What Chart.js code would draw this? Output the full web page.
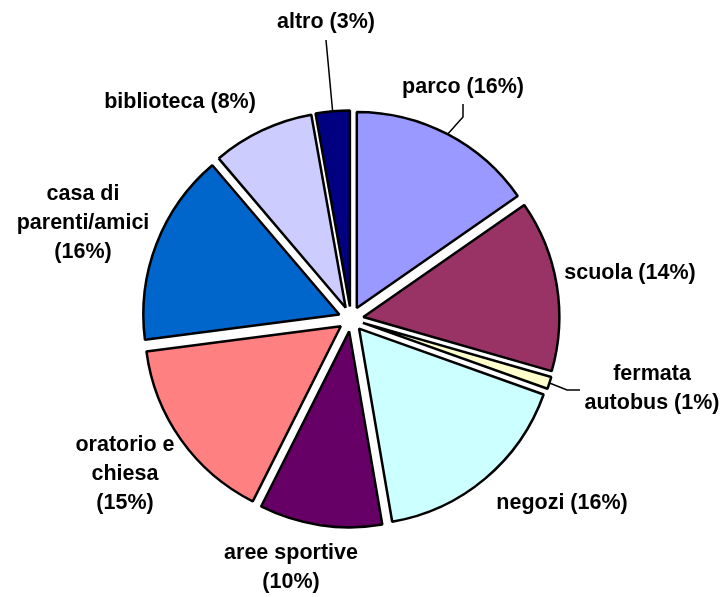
<!DOCTYPE html>
<html>
<head>
<meta charset="utf-8">
<script src="https://cdn.jsdelivr.net/npm/chart.js@4.4.1/dist/chart.umd.min.js"></script>
<style>
  html, body { margin: 0; padding: 0; background: #fff; }
  #wrap { width: 726px; height: 597px; position: relative; }
</style>
</head>
<body>
<div id="wrap"><canvas id="chart"></canvas></div>
<script>
const categories = ['parco', 'scuola', 'fermata autobus', 'negozi', 'aree sportive',
  'oratorio e chiesa', 'casa di parenti/amici', 'biblioteca', 'altro'];
const shares = [15.3, 14.1, 1.0, 16.8, 10.1, 15.5, 15.8, 8.4, 2.8];
const percentText = ['16%', '14%', '1%', '16%', '10%', '15%', '16%', '8%', '3%'];
const labelText = [
  'parco (16%)', 'scuola (14%)', 'fermata\nautobus (1%)', 'negozi (16%)', 'aree sportive\n(10%)',
  'oratorio e\nchiesa\n(15%)', 'casa di\nparenti/amici\n(16%)', 'biblioteca (8%)', 'altro (3%)'
];
const colors = ['#9999FF', '#993366', '#FFFFCC', '#CCFFFF', '#660066',
  '#FF8080', '#0066CC', '#CCCCFF', '#000080'];

// layout of text, relative to pie centre
const EXPLODE = 12.5;
const labelPos = [[112, -232], [279, -46], [301, 70], [211, 184], [-60, 249],
  [-226, 155], [-268, -96], [-171, -217], [-25, -297]];
// leader lines: label-side points, last point is the slice edge
const leaders = { 0: [[112, -215], [112, -202]], 2: [[229, 71], [216, 71]], 8: [[-25, -279]] };
const FONT = 'bold 21.5px "Liberation Sans", Arial, sans-serif';

function edgePoint(arc) {
  const mid = (arc.startAngle + arc.endAngle) / 2;
  const r = arc.outerRadius + EXPLODE;
  return [arc.x + Math.cos(mid) * r, arc.y + Math.sin(mid) * r];
}

const explodePlugin = {
  id: 'explode',
  beforeDatasetDraw(chart, args) {
    const ctx = chart.ctx;
    for (const arc of args.meta.data) {
      const mid = (arc.startAngle + arc.endAngle) / 2;
      ctx.save();
      ctx.translate(Math.cos(mid) * EXPLODE, Math.sin(mid) * EXPLODE);
      arc.draw(ctx);
      ctx.restore();
    }
    return false;
  }
};

const labelPlugin = {
  id: 'pieLabels',
  afterDraw(chart) {
    const ctx = chart.ctx;
    const arcs = chart.getDatasetMeta(0).data;
    const cx = arcs[0].x, cy = arcs[0].y;
    ctx.save();
    ctx.strokeStyle = '#000';
    ctx.lineWidth = 1.5;
    for (const k in leaders) {
      const pts = leaders[k].map(p => [cx + p[0], cy + p[1]]);
      pts.push(edgePoint(arcs[k]));
      ctx.beginPath();
      ctx.moveTo(pts[0][0], pts[0][1]);
      for (let i = 1; i < pts.length; i++) ctx.lineTo(pts[i][0], pts[i][1]);
      ctx.stroke();
    }
    ctx.font = FONT;
    ctx.fillStyle = '#000';
    ctx.textAlign = 'center';
    ctx.textBaseline = 'middle';
    labelText.forEach((t, i) => {
      const lines = t.split('\n');
      const lh = 29;
      const x = cx + labelPos[i][0];
      const y0 = cy + labelPos[i][1] - (lines.length - 1) * lh / 2;
      lines.forEach((ln, j) => ctx.fillText(ln, x, y0 + j * lh));
    });
    ctx.restore();
  }
};

new Chart(document.getElementById('chart'), {
  type: 'pie',
  data: {
    labels: categories,
    datasets: [{
      data: shares,
      backgroundColor: colors,
      borderColor: '#000',
      borderWidth: 2.5,
      offset: 0,
      radius: 196
    }]
  },
  options: {
    responsive: true,
    maintainAspectRatio: false,
    animation: false,
    events: [],
    layout: { padding: { left: 100, right: 124, top: 80, bottom: 39 } },
    plugins: { legend: { display: false }, tooltip: { enabled: false } }
  },
  plugins: [explodePlugin, labelPlugin]
});
</script>
</body>
</html>
